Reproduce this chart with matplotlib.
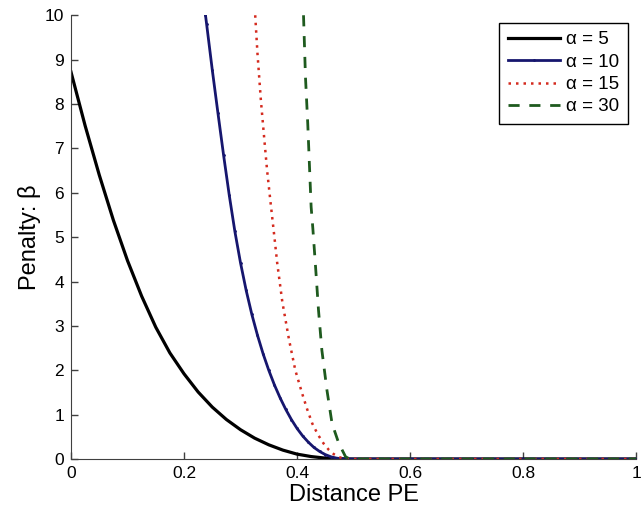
import matplotlib
matplotlib.use('Agg')
import matplotlib.pyplot as plt

plt.rcParams['font.family'] = ['Liberation Sans', 'DejaVu Sans']

# values
flat_x = [0.52, 0.54, 0.56, 0.58, 0.6, 0.62, 0.64, 0.66, 0.68, 0.7, 0.72, 0.74,
          0.76, 0.78, 0.8, 0.82, 0.84, 0.86, 0.88, 0.9, 0.92, 0.94, 0.96,
          0.98, 1.0]
flat_y = [0] * len(flat_x)

a5_x = [0, 0.025, 0.05, 0.075, 0.1, 0.125, 0.15, 0.175, 0.2, 0.225, 0.25,
        0.275, 0.3, 0.325, 0.35, 0.375, 0.4, 0.425, 0.45, 0.475, 0.5] + flat_x
a5_y = [8.72, 7.51, 6.40, 5.38, 4.47, 3.67, 2.97, 2.39, 1.92, 1.51, 1.17,
        0.89, 0.66, 0.47, 0.32, 0.2, 0.11, 0.055, 0.02, 0.005, 0] + flat_y

a10_x = [0.238, 0.24, 0.25, 0.26, 0.27, 0.28, 0.29, 0.30, 0.31, 0.32, 0.33,
         0.34, 0.35, 0.36, 0.37, 0.38, 0.39, 0.40, 0.41, 0.42, 0.43, 0.44,
         0.45, 0.46, 0.47, 0.48, 0.49, 0.5] + flat_x
a10_y = [10, 9.8, 8.77, 7.8, 6.85, 5.95, 5.13, 4.42, 3.8, 3.26, 2.79,
         2.37, 2.0, 1.67, 1.38, 1.12, 0.89, 0.69, 0.52, 0.38, 0.26, 0.17,
         0.1, 0.05, 0.02, 0.005, 0, 0] + flat_y

a15_x = [0.326, 0.33, 0.336, 0.342, 0.347, 0.353, 0.36, 0.365, 0.374, 0.386,
         0.397, 0.409, 0.418, 0.427, 0.437, 0.447, 0.456, 0.465, 0.473,
         0.48, 0.49, 0.5] + flat_x
a15_y = [10, 9.14, 8.09, 7.22, 6.51, 5.8, 5.0, 4.41, 3.54, 2.68,
         2.0, 1.48, 1.12, 0.8, 0.55, 0.35, 0.21, 0.11, 0.05,
         0.02, 0, 0] + flat_y

a30_x = [0.4115, 0.415, 0.419, 0.422, 0.425, 0.428, 0.433, 0.438, 0.444,
         0.453, 0.462, 0.474, 0.486, 0.492, 0.5] + flat_x
a30_y = [10, 8.6, 7.56, 6.62, 5.68, 5.2, 4.3, 3.36, 2.45,
         1.55, 0.8, 0.35, 0.05, 0.01, 0] + flat_y

fig = plt.figure(figsize=(6.41, 5.19), dpi=100)
ax = fig.add_axes([0.1108, 0.1156, 0.8814, 0.855])

ax.plot(a5_x, a5_y, color='black', lw=2.3, label='α = 5')
ax.plot(a10_x, a10_y, color='#16166e', lw=2.0, marker='.', markersize=2,
        label='α = 10')
ax.plot(a15_x, a15_y, color='#d42a1e', lw=1.8, dashes=(1, 2.0), label='α = 15')
ax.plot(a30_x, a30_y, color='#1e5a1e', lw=2.0, dashes=(4, 3.5), label='α = 30')

ax.set_xlim(0, 1)
ax.set_ylim(0, 10)
ax.set_xticks([0, 0.2, 0.4, 0.6, 0.8, 1])
ax.set_xticklabels(['0', '0.2', '0.4', '0.6', '0.8', '1'])
ax.set_yticks(range(0, 11))
ax.tick_params(direction='in', length=5, width=1, labelsize=12.5,
               colors='#404040', labelcolor='black', pad=5)
ax.spines[['top', 'right']].set_visible(False)
ax.spines[['left', 'bottom']].set_color('#404040')
ax.set_xlabel('Distance PE', fontsize=17, labelpad=2)
ax.set_ylabel('Penalty: β', fontsize=17, labelpad=3)

leg = ax.legend(loc='upper right', bbox_to_anchor=(0.985, 0.983),
                borderaxespad=0, fontsize=13.5, handlelength=2.8,
                handletextpad=0.3, labelspacing=0.28, borderpad=0.45,
                fancybox=False, edgecolor='black', framealpha=1)
leg.get_frame().set_linewidth(1.0)

fig.savefig('out.png', dpi=100)
